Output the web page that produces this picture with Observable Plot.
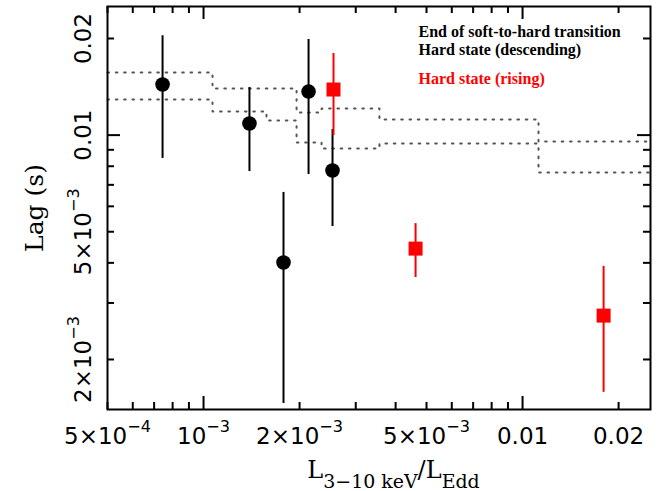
<!DOCTYPE html>
<html><head><meta charset="utf-8">
<script src="https://cdn.jsdelivr.net/npm/d3@7"></script>
<script src="https://cdn.jsdelivr.net/npm/@observablehq/plot@0.6"></script>
<style>body{margin:0;background:#fff}#chart svg{display:block}</style>
</head><body><div id="chart"></div>
<script>
// Hard state (descending) + end of soft-to-hard transition (black circles)
const descX  = [7.44e-4, 1.393e-3, 2.134e-3, 2.537e-3, 1.781e-3];
const descY  = [0.01438, 0.01087, 0.01367, 0.00776, 0.00401];
const descLo = [0.00846, 0.00770, 0.00754, 0.00519, 0.001459];
const descHi = [0.02040, 0.01407, 0.01986, 0.01041, 0.00663];
// Hard state (rising) (red squares)
const riseX  = [2.555e-3, 4.62e-3, 0.01795];
const riseY  = [0.01387, 0.00443, 0.00274];
const riseLo = [0.00997, 0.00360, 0.00158];
const riseHi = [0.01796, 0.00530, 0.00390];
// dotted band (step functions)
const bandUpperX = [5e-4, 1.067e-3, 1.957e-3, 2.344e-3, 3.56e-3, 0.01122, 0.02518];
const bandUpperY = [0.01567, 0.01397, 0.01176, 0.01210, 0.01119, 0.00955, 0.00955];
const bandLowerX = [5e-4, 1.067e-3, 1.575e-3, 1.957e-3, 2.344e-3, 3.56e-3, 0.01122, 0.02518];
const bandLowerY = [0.01291, 0.01185, 0.01111, 0.00948, 0.00908, 0.00941, 0.00765, 0.00765];
// ticks
const xMajor = [1e-3, 1e-2];
const xMinor = [5e-4, 6e-4, 7e-4, 8e-4, 9e-4, 2e-3, 3e-3, 4e-3, 5e-3, 6e-3, 7e-3, 8e-3, 9e-3, 2e-2];
const yMajor = [1e-2];
const yMinor = [2e-3, 3e-3, 4e-3, 5e-3, 6e-3, 7e-3, 8e-3, 9e-3, 2e-2];
const xLabelVals  = [5e-4, 1e-3, 2e-3, 5e-3, 0.01, 0.02];
const xLabelTexts = ["5×10^{−4}", "10^{−3}", "2×10^{−3}", "5×10^{−3}", "0.01", "0.02"];
const yLabelVals  = [2e-3, 5e-3, 0.01, 0.02];
const yLabelTexts = ["2×10^{−3}", "5×10^{−3}", "0.01", "0.02"];
const legendTexts = ["End of soft-to-hard transition", "Hard state (descending)", "Hard state (rising)"];
const xTitle = "L_{3−10 keV}/L_{Edd}";
const yTitle = "Lag (s)";

const desc = descX.map((x, i) => ({x, y: descY[i], lo: descLo[i], hi: descHi[i]}));
const rise = riseX.map((x, i) => ({x, y: riseY[i], lo: riseLo[i], hi: riseHi[i]}));
const upper = bandUpperX.map((x, i) => ({x, y: bandUpperY[i]}));
const lower = bandLowerX.map((x, i) => ({x, y: bandLowerY[i]}));

const W = 668, H = 491, mL = 107, mR = 18, mT = 6, mB = 82;
const pw = W - mL - mR, ph = H - mT - mB;
const sans = "DejaVu Sans", serif = "DejaVu Serif", times = "Liberation Serif";
const dotted = {curve: "step-after", stroke: "#555", strokeWidth: 2, strokeDasharray: "1.6,6.7"};

const chart = Plot.plot({
  width: W, height: H, marginLeft: mL, marginRight: mR, marginTop: mT, marginBottom: mB,
  x: {type: "log", domain: [5e-4, 0.02518], axis: null},
  y: {type: "log", domain: [1.397e-3, 0.02516], axis: null},
  style: {background: "white"},
  marks: [
    Plot.line(upper, {x: "x", y: "y", ...dotted}),
    Plot.line(lower, {x: "x", y: "y", ...dotted}),
    Plot.ruleX(desc, {x: "x", y1: "lo", y2: "hi", stroke: "black", strokeWidth: 2}),
    Plot.ruleX(rise, {x: "x", y1: "lo", y2: "hi", stroke: "#ff0000", strokeWidth: 2}),
    Plot.dot(desc, {x: "x", y: "y", r: 7.3, fill: "black", stroke: null}),
    Plot.dot(rise, {x: "x", y: "y", r: 7.9, symbol: "square", fill: "#ff0000", stroke: null}),
    // inward ticks on four sides
    Plot.tickX(xMajor, {x: d => d, insetTop: ph - 13, strokeWidth: 2}),
    Plot.tickX(xMinor, {x: d => d, insetTop: ph - 7, strokeWidth: 2}),
    Plot.tickX(xMajor, {x: d => d, insetBottom: ph - 13, strokeWidth: 2}),
    Plot.tickX(xMinor, {x: d => d, insetBottom: ph - 7, strokeWidth: 2}),
    Plot.tickY(yMajor, {y: d => d, insetRight: pw - 13, strokeWidth: 2}),
    Plot.tickY(yMinor, {y: d => d, insetRight: pw - 7, strokeWidth: 2}),
    Plot.tickY(yMajor, {y: d => d, insetLeft: pw - 13, strokeWidth: 2}),
    Plot.tickY(yMinor, {y: d => d, insetLeft: pw - 7, strokeWidth: 2}),
    Plot.frame({stroke: "black", strokeWidth: 2}),
    // tick labels
    Plot.text(xLabelVals, {x: d => d, text: (d, i) => xLabelTexts[i], frameAnchor: "bottom", dy: 34,
      lineAnchor: "bottom", textAnchor: "middle", fontSize: 23, fontFamily: sans, fill: "black"}),
    Plot.text(yLabelVals, {y: d => d, text: (d, i) => yLabelTexts[i], frameAnchor: "left", dx: -17,
      rotate: -90, lineAnchor: "bottom", textAnchor: "middle", fontSize: 23, fontFamily: sans, fill: "black"}),
    // axis titles
    Plot.text([xTitle], {text: d => d, frameAnchor: "bottom", dx: 14.5, dy: 68, lineAnchor: "bottom",
      textAnchor: "middle", fontSize: 24, fontFamily: serif, fill: "black"}),
    Plot.text([yTitle], {text: d => d, frameAnchor: "left", dx: -65, rotate: -90, lineAnchor: "bottom",
      textAnchor: "middle", fontSize: 25, fontFamily: serif, fill: "black"}),
    // legend text
    Plot.text([legendTexts[0]], {text: d => d, frameAnchor: "top-left", dx: 311, dy: 30, lineAnchor: "bottom",
      textAnchor: "start", fontSize: 16, fontWeight: "bold", fontFamily: times, fill: "black"}),
    Plot.text([legendTexts[1]], {text: d => d, frameAnchor: "top-left", dx: 311, dy: 48, lineAnchor: "bottom",
      textAnchor: "start", fontSize: 16, fontWeight: "bold", fontFamily: times, fill: "black"}),
    Plot.text([legendTexts[2]], {text: d => d, frameAnchor: "top-left", dx: 311, dy: 77, lineAnchor: "bottom",
      textAnchor: "start", fontSize: 16, fontWeight: "bold", fontFamily: times, fill: "#ff0000"})
  ]
});

// rich text: ^{..} superscript, _{..} subscript
const NS = "http://www.w3.org/2000/svg";
chart.querySelectorAll("text").forEach(el => {
  const s = el.textContent;
  if (!/[\^_]\{/.test(s)) return;
  const holder = el.closest("[font-size]");
  const fs = holder ? parseFloat(holder.getAttribute("font-size")) : 20;
  const re = /([\^_])\{([^}]*)\}/g;
  el.textContent = "";
  let shift = 0, last = 0, m;
  const add = (str, kind) => {
    if (!str) return;
    const t = document.createElementNS(NS, "tspan");
    t.textContent = str;
    const target = kind === "^" ? -0.5 * fs : kind === "_" ? 0.42 * fs : 0;
    if (target !== shift) { t.setAttribute("dy", target - shift); shift = target; }
    if (kind === "^") t.setAttribute("font-size", 0.7 * fs);
    if (kind === "_") t.setAttribute("font-size", 0.79 * fs);
    el.appendChild(t);
  };
  while ((m = re.exec(s))) {
    add(s.slice(last, m.index), null);
    add(m[2], m[1]);
    last = re.lastIndex;
  }
  add(s.slice(last), null);
});

document.getElementById("chart").appendChild(chart);
</script>
</body></html>
